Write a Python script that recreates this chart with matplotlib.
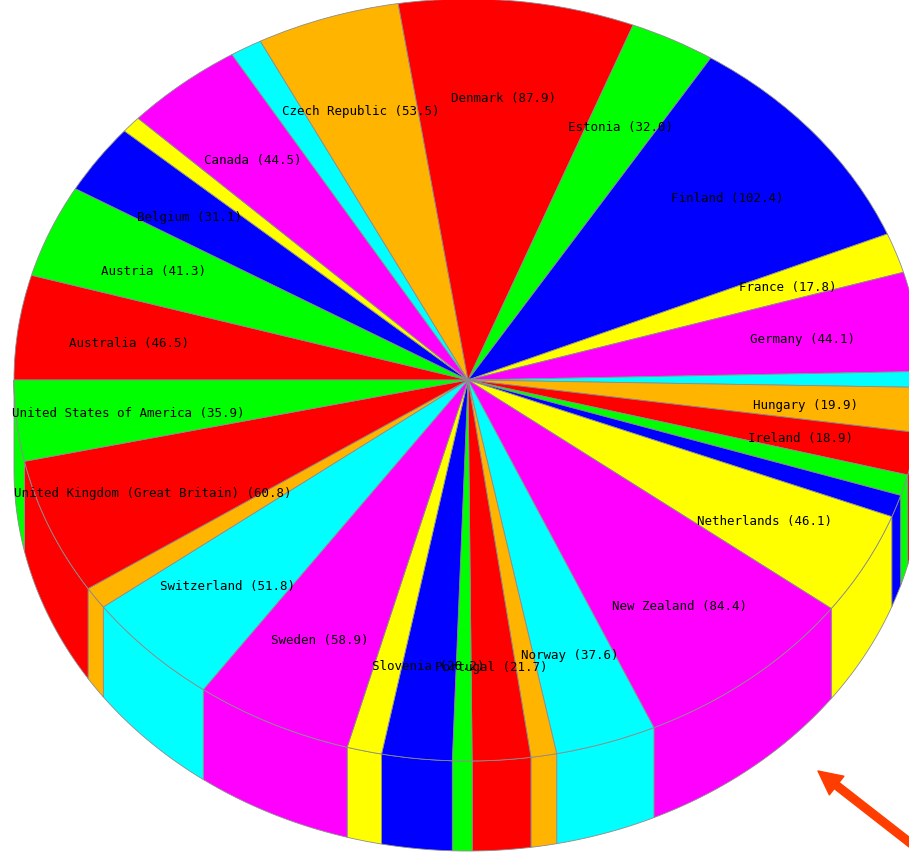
import numpy as np
import matplotlib
matplotlib.use("Agg")
import matplotlib.pyplot as plt

# Values in chart order, clockwise from the left edge of the pie.
# Slices too small to get a label in the original have an empty name.
names = ["Australia", "Austria", "Belgium", "", "Canada", "", "Czech Republic",
         "Denmark", "Estonia", "Finland", "France", "Germany", "", "Hungary",
         "Ireland", "", "", "Netherlands", "New Zealand", "Norway", "",
         "Portugal", "", "Slovenia", "", "Sweden", "Switzerland", "",
         "United Kingdom (Great Britain)", "United States of America"]
values = [46.5, 41.3, 31.1, 7.5, 44.5, 12.0, 53.5,
          87.9, 32.0, 102.4, 17.8, 44.1, 7.0, 19.9,
          18.9, 9.3, 9.9, 46.1, 84.4, 37.6, 9.6,
          21.7, 7.3, 26.2, 13.0, 58.9, 51.8, 9.8,
          60.8, 35.9]
palette = ["#ff0000", "#00ff00", "#0000ff", "#ffff00", "#ff00ff", "#00ffff", "#ffb400"]

# Pixel layout of the picture
W, H = 909, 853
CX, CY = 468, 381
RX, RY = 454, 381
DEPTH = 90 / RY
EDGE = "#8c8c8c"

colors = [palette[i % len(palette)] for i in range(len(values))]
labels = [f"{n} ({v})" if n else "" for n, v in zip(names, values)]


def px(x, y):
    return (x - CX) / RX, (CY - y) / RY


fig = plt.figure(figsize=(W / 100, H / 100), dpi=100)
ax = fig.add_axes([0, 0, 1, 1])

wedges, texts = ax.pie(values, labels=labels, colors=colors, startangle=180,
                       counterclock=False, labeldistance=0.75,
                       wedgeprops=dict(edgecolor=EDGE, linewidth=0.6, zorder=3),
                       textprops=dict(family="DejaVu Sans Mono", fontsize=9, color="black"))
for t in texts:
    t.set_ha("center")
    t.set_va("center")
    t.set_zorder(5)
    # labels sit a little left of and below the true 0.75 radius point
    x, y = t.get_position()
    t.set_position((x - 1.5 / RX, y - 2 / RY))

# Side wall, only the part of each slice on the near half of the rim
edges = np.cumsum([0] + values) / sum(values) * 2 * np.pi - np.pi / 2
for a, b, c in zip(edges[:-1], edges[1:], colors):
    lo, hi = max(a, np.pi / 2), min(b, 1.5 * np.pi)
    if lo >= hi:
        continue
    t = np.linspace(lo, hi, 40)
    xs = np.sin(t)
    ys = np.cos(t)
    ax.fill(np.r_[xs, xs[::-1]], np.r_[ys, ys[::-1] - DEPTH], facecolor=c,
            edgecolor=EDGE, linewidth=0.6, zorder=2)

ax.set_aspect("auto")
ax.set_xlim(px(0, 0)[0], px(W, 0)[0])
ax.set_ylim(px(0, H)[1], px(0, 0)[1])
ax.axis("off")

ax.annotate("", xy=px(818, 772), xytext=px(918, 850), annotation_clip=False,
            arrowprops=dict(facecolor="#ff3d00", edgecolor="#ff3d00", width=5.6,
                            headwidth=17, headlength=17, shrink=0), zorder=6)

fig.savefig("out.png", dpi=100)
